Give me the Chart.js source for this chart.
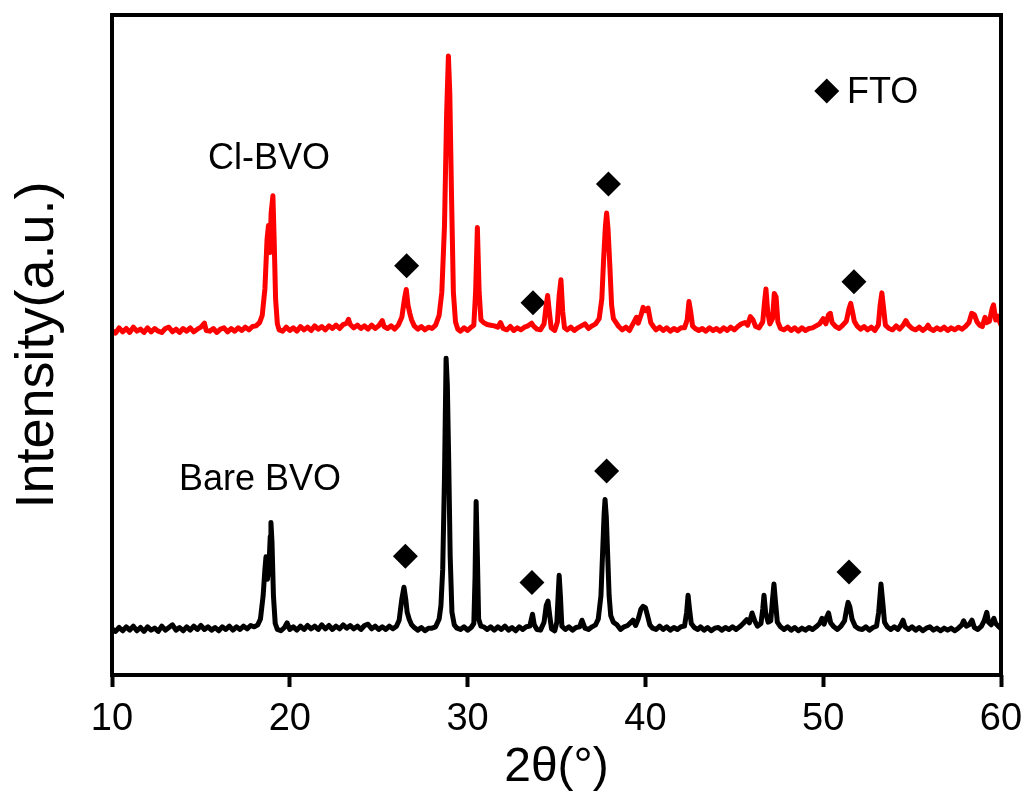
<!DOCTYPE html>
<html>
<head>
<meta charset="utf-8">
<script src="https://cdn.jsdelivr.net/npm/chart.js@4.4.0/dist/chart.umd.min.js"></script>
<style>
  html, body { margin: 0; padding: 0; background: #ffffff; }
  #wrap { width: 1028px; height: 796px; }
</style>
</head>
<body>
<div id="wrap"><canvas id="c" width="1028" height="796"></canvas></div>
<script>
// ---------- data (2θ in degrees, intensity in offset a.u.) ----------
const xTicks = [10, 20, 30, 40, 50, 60];

const clBVO = [
  [10.0,52.2],[10.2,51.8],[10.4,52.6],[10.6,52.0],[10.8,52.5],[11.0,51.9],[11.2,52.7],[11.4,52.1],[11.6,52.4],[11.8,51.9],
  [12.0,52.6],[12.2,52.0],[12.4,52.5],[12.6,52.1],[12.8,51.9],[13.0,52.5],[13.2,52.7],[13.4,52.0],[13.6,52.4],[13.8,51.9],
  [14.0,52.5],[14.2,52.1],[14.4,52.6],[14.6,52.0],[14.8,52.4],[15.0,52.7],[15.2,53.3],[15.3,52.2],[15.5,52.1],[15.7,52.5],
  [15.9,51.9],[16.1,52.4],[16.3,52.6],[16.5,52.0],[16.7,52.5],[16.9,52.1],[17.1,52.6],[17.3,52.2],[17.5,52.7],[17.7,52.3],
  [17.9,52.8],[18.1,52.9],[18.3,53.4],[18.45,54.5],[18.6,58.5],[18.72,66.0],[18.8,68.1],[18.88,64.0],[18.95,70.0],[19.05,72.6],
  [19.12,66.0],[19.2,57.0],[19.3,53.2],[19.4,52.3],[19.6,52.1],[19.8,52.7],[20.0,52.2],[20.2,52.6],[20.4,52.1],[20.6,52.8],
  [20.8,52.3],[21.0,52.7],[21.2,52.2],[21.4,52.9],[21.6,52.4],[21.8,52.8],[22.0,52.3],[22.2,52.9],[22.4,52.5],[22.6,53.0],
  [22.8,52.5],[23.0,53.1],[23.2,53.3],[23.3,53.9],[23.4,53.1],[23.6,52.6],[23.8,53.0],[24.0,52.5],[24.2,52.9],[24.4,52.4],
  [24.6,53.0],[24.8,52.5],[25.0,52.9],[25.2,53.7],[25.3,52.8],[25.5,52.5],[25.7,52.9],[25.9,52.4],[26.1,53.0],[26.3,54.2],
  [26.45,57.0],[26.55,58.4],[26.65,56.0],[26.75,54.8],[26.85,53.8],[27.0,52.9],[27.2,52.4],[27.4,52.8],[27.6,52.3],[27.8,52.7],
  [28.0,52.5],[28.2,53.0],[28.4,54.5],[28.55,58.0],[28.7,68.0],[28.82,85.0],[28.92,93.8],[29.0,88.0],[29.1,72.0],[29.2,58.0],
  [29.32,53.5],[29.45,52.4],[29.6,52.1],[29.8,52.6],[30.0,52.2],[30.2,52.7],[30.35,53.0],[30.45,58.0],[30.55,67.8],[30.65,58.0],
  [30.75,53.8],[30.9,53.4],[31.1,53.1],[31.3,53.0],[31.5,52.9],[31.7,52.7],[31.85,53.4],[32.0,52.5],[32.2,52.3],[32.4,52.8],
  [32.6,52.2],[32.8,52.6],[33.0,52.3],[33.2,52.7],[33.4,52.9],[33.6,53.3],[33.7,52.9],[33.9,52.4],[34.1,52.3],[34.3,53.2],
  [34.42,56.0],[34.5,57.5],[34.6,55.0],[34.7,52.6],[34.9,52.2],[35.05,53.5],[35.15,57.5],[35.25,59.9],[35.35,55.0],[35.45,52.6],
  [35.6,52.3],[35.8,52.7],[36.0,52.2],[36.2,52.6],[36.4,52.9],[36.6,53.2],[36.8,52.5],[37.0,52.9],[37.2,53.2],[37.4,54.0],
  [37.55,57.0],[37.65,63.0],[37.75,68.0],[37.82,70.0],[37.9,67.5],[38.0,62.0],[38.1,56.0],[38.2,54.0],[38.35,53.4],[38.5,52.8],
  [38.7,52.3],[38.9,52.7],[39.1,52.2],[39.3,53.2],[39.5,54.2],[39.6,53.3],[39.75,54.5],[39.87,55.7],[40.0,55.2],[40.15,55.6],
  [40.3,53.4],[40.45,52.8],[40.6,52.3],[40.8,52.7],[41.0,52.2],[41.2,52.6],[41.4,52.1],[41.6,52.5],[41.8,52.2],[42.0,52.6],
  [42.2,52.6],[42.35,53.8],[42.45,56.6],[42.55,55.0],[42.65,52.9],[42.8,52.5],[43.0,52.2],[43.2,52.5],[43.4,52.1],[43.6,52.6],
  [43.8,52.2],[44.0,52.5],[44.2,52.1],[44.4,52.6],[44.6,52.2],[44.8,52.7],[45.0,52.3],[45.2,52.8],[45.4,53.2],[45.6,53.4],
  [45.75,53.0],[45.9,54.3],[46.05,53.8],[46.2,52.8],[46.4,52.6],[46.6,53.5],[46.7,56.5],[46.78,58.5],[46.88,55.0],[47.0,53.2],
  [47.15,54.0],[47.25,57.8],[47.35,57.3],[47.45,53.5],[47.6,52.5],[47.8,52.3],[48.0,52.7],[48.2,52.2],[48.4,52.6],[48.6,52.1],
  [48.8,52.6],[49.0,52.2],[49.2,52.5],[49.4,52.6],[49.6,52.9],[49.8,53.2],[50.0,54.0],[50.15,53.2],[50.3,54.6],[50.4,54.8],
  [50.5,53.4],[50.7,52.8],[50.9,52.5],[51.1,53.0],[51.3,53.6],[51.45,55.5],[51.55,56.3],[51.65,55.0],[51.75,53.6],[51.9,52.9],
  [52.1,52.4],[52.3,52.8],[52.5,52.3],[52.7,52.7],[52.9,52.2],[53.1,53.0],[53.2,56.0],[53.3,57.9],[53.4,55.5],[53.5,53.0],
  [53.7,52.5],[53.9,52.3],[54.1,52.9],[54.3,52.4],[54.5,53.0],[54.65,53.7],[54.8,53.0],[55.0,52.5],[55.2,52.3],[55.4,52.7],
  [55.6,52.2],[55.8,52.6],[55.9,53.0],[56.0,52.5],[56.2,52.2],[56.4,52.6],[56.6,52.3],[56.8,52.7],[57.0,52.2],[57.2,52.6],
  [57.4,52.3],[57.6,52.7],[57.8,52.4],[58.0,52.8],[58.2,53.4],[58.35,54.8],[58.5,54.6],[58.65,53.5],[58.8,53.0],[58.95,52.8],
  [59.1,54.2],[59.2,53.4],[59.35,53.6],[59.5,55.5],[59.58,56.1],[59.7,53.8],[59.8,54.4],[60.0,53.0]
];

const bareBVO = [
  [10.0,7.0],[10.2,6.6],[10.4,7.2],[10.6,6.7],[10.8,7.3],[11.0,6.8],[11.2,7.4],[11.4,6.7],[11.6,7.2],[11.8,6.6],
  [12.0,7.3],[12.2,6.8],[12.4,7.1],[12.6,6.6],[12.8,7.4],[13.0,6.8],[13.2,7.2],[13.4,7.6],[13.6,6.8],[13.8,7.2],
  [14.0,6.7],[14.2,7.3],[14.4,6.8],[14.6,7.4],[14.8,6.9],[15.0,7.5],[15.2,6.9],[15.4,7.3],[15.6,6.8],[15.8,7.2],
  [16.0,6.7],[16.2,7.3],[16.4,6.9],[16.6,7.4],[16.8,6.8],[17.0,7.3],[17.2,6.9],[17.4,7.4],[17.6,7.0],[17.8,7.5],
  [18.0,7.3],[18.2,7.6],[18.35,8.5],[18.5,12.0],[18.6,16.0],[18.66,17.9],[18.74,14.5],[18.82,16.0],[18.9,21.0],[18.94,23.1],
  [19.0,20.0],[19.08,12.0],[19.18,7.8],[19.3,6.9],[19.5,6.7],[19.7,7.2],[19.85,7.9],[20.0,6.9],[20.2,7.3],[20.4,6.8],
  [20.6,7.4],[20.8,6.9],[21.0,7.5],[21.2,7.0],[21.4,7.4],[21.6,6.9],[21.8,7.6],[22.0,7.0],[22.2,7.5],[22.4,6.9],
  [22.6,7.4],[22.8,7.0],[23.0,7.6],[23.2,7.1],[23.4,7.5],[23.6,7.0],[23.8,7.4],[24.0,6.9],[24.2,7.5],[24.4,7.7],
  [24.6,7.0],[24.8,7.4],[25.0,6.9],[25.2,7.3],[25.4,6.9],[25.6,7.4],[25.8,7.0],[26.0,7.4],[26.15,8.3],[26.3,11.5],
  [26.42,13.3],[26.52,11.5],[26.6,9.5],[26.72,8.4],[26.85,7.6],[27.0,7.2],[27.2,6.8],[27.4,7.2],[27.6,6.7],[27.8,7.1],
  [28.0,7.1],[28.2,7.3],[28.4,8.5],[28.5,10.5],[28.6,16.0],[28.7,30.0],[28.79,48.0],[28.86,44.0],[28.94,32.0],[29.02,18.0],
  [29.12,9.5],[29.25,7.6],[29.4,7.1],[29.6,6.9],[29.8,7.3],[30.0,6.8],[30.2,7.2],[30.35,7.8],[30.42,15.0],[30.48,26.3],
  [30.55,18.0],[30.62,8.5],[30.75,7.4],[30.9,7.3],[31.1,6.9],[31.3,7.3],[31.5,6.8],[31.7,7.3],[31.9,6.9],[32.1,7.4],
  [32.3,6.8],[32.5,7.2],[32.7,6.7],[32.9,7.3],[33.1,6.9],[33.3,7.3],[33.5,7.4],[33.65,9.2],[33.75,7.6],[33.9,6.9],
  [34.1,6.8],[34.3,8.0],[34.42,10.5],[34.52,11.2],[34.62,9.0],[34.72,7.0],[34.9,6.7],[35.02,8.0],[35.1,12.5],[35.15,15.1],
  [35.22,12.0],[35.3,7.4],[35.5,6.9],[35.7,7.3],[35.9,6.8],[36.1,7.2],[36.3,7.3],[36.43,8.3],[36.6,7.1],[36.8,6.9],
  [37.0,7.3],[37.2,7.6],[37.35,8.5],[37.5,12.0],[37.6,19.0],[37.68,24.5],[37.73,26.6],[37.8,24.0],[37.88,18.0],[37.96,12.0],
  [38.05,9.0],[38.2,8.0],[38.4,7.6],[38.6,6.9],[38.8,7.3],[39.0,7.5],[39.2,8.0],[39.3,8.3],[39.45,7.5],[39.6,8.5],
  [39.75,10.0],[39.87,10.4],[40.0,10.2],[40.12,9.0],[40.25,7.6],[40.4,7.1],[40.6,6.9],[40.8,7.4],[41.0,6.9],[41.2,7.3],
  [41.4,6.8],[41.6,7.2],[41.8,6.9],[42.0,7.3],[42.2,7.4],[42.32,9.5],[42.4,12.1],[42.48,10.0],[42.58,7.8],[42.75,7.2],
  [42.95,6.9],[43.1,7.3],[43.3,6.8],[43.5,7.2],[43.7,6.7],[43.9,7.1],[44.1,7.2],[44.3,6.8],[44.5,7.2],[44.7,6.9],
  [44.9,7.3],[45.1,6.9],[45.3,7.3],[45.5,7.8],[45.7,8.4],[45.85,7.9],[46.0,9.4],[46.15,8.2],[46.3,7.4],[46.5,7.8],
  [46.6,10.0],[46.67,12.1],[46.76,9.5],[46.9,8.0],[47.05,8.2],[47.15,11.5],[47.23,13.8],[47.32,11.0],[47.42,8.0],[47.6,7.3],
  [47.8,6.9],[48.0,7.3],[48.2,6.8],[48.4,7.2],[48.6,6.7],[48.8,7.1],[49.0,6.8],[49.2,7.2],[49.4,6.9],[49.6,7.3],
  [49.8,7.8],[49.93,8.6],[50.05,7.7],[50.2,8.8],[50.3,9.4],[50.42,7.9],[50.6,7.3],[50.8,6.9],[51.0,7.4],[51.2,8.2],
  [51.32,10.0],[51.4,11.0],[51.5,10.3],[51.62,8.5],[51.8,7.4],[52.0,7.0],[52.2,6.9],[52.4,7.3],[52.6,6.8],[52.8,7.2],
  [53.0,7.4],[53.12,9.5],[53.25,13.8],[53.35,11.0],[53.45,8.0],[53.6,7.3],[53.8,6.9],[54.0,7.3],[54.2,6.9],[54.35,7.5],
  [54.49,8.3],[54.6,7.3],[54.8,6.9],[55.0,7.3],[55.2,6.8],[55.4,7.2],[55.6,6.7],[55.8,7.1],[56.0,7.3],[56.2,6.8],
  [56.4,7.1],[56.6,6.7],[56.8,7.1],[57.0,6.8],[57.2,7.1],[57.4,6.7],[57.6,7.1],[57.8,7.6],[57.9,8.2],[58.05,7.4],
  [58.2,7.6],[58.37,8.3],[58.5,7.2],[58.7,6.9],[58.9,7.4],[59.05,8.2],[59.2,9.5],[59.3,8.0],[59.45,7.6],[59.6,8.6],
  [59.7,7.8],[59.85,7.4],[60.0,7.0]
];

// FTO reflection markers (diamonds)
const ftoMarksCl   = [[26.57,62.0],[33.68,56.4],[37.92,74.4],[51.73,59.6]];
const ftoMarksBare = [[26.50,18.0],[33.62,14.0],[37.82,30.9],[51.45,15.6]];
const ftoLegendMark = [[50.2,88.5]];

// Text annotations (data coordinates, left/baseline)
const textLabels = [
  { text: 'Cl-BVO',   x: 15.4,  y: 76.7 },
  { text: 'Bare BVO', x: 13.77, y: 28.1 },
  { text: 'FTO',      x: 51.34, y: 86.7 }
];

// ---------- chart ----------
const FONT = "'Liberation Sans', Arial, sans-serif";
const toXY = arr => arr.map(p => ({ x: p[0], y: p[1] }));

const framePlugin = {
  id: 'frameAndText',
  afterDatasetsDraw(chart) {
    const { ctx, scales } = chart;
    ctx.save();
    ctx.fillStyle = '#000';
    ctx.font = '36px ' + FONT;
    ctx.textBaseline = 'alphabetic';
    ctx.textAlign = 'left';
    textLabels.forEach(t => {
      ctx.fillText(t.text, scales.x.getPixelForValue(t.x), scales.y.getPixelForValue(t.y));
    });
    ctx.restore();
  },
  afterDraw(chart) {
    const { ctx, chartArea: a } = chart;
    ctx.save();
    ctx.strokeStyle = '#000';
    ctx.lineWidth = 4;
    ctx.lineJoin = 'miter';
    ctx.strokeRect(a.left, a.top, a.right - a.left, a.bottom - a.top);
    ctx.restore();
  }
};

const markerDs = (arr) => ({
  type: 'scatter',
  data: toXY(arr),
  showLine: false,
  pointStyle: 'rectRot',
  pointRadius: 12.5,
  pointHoverRadius: 12.5,
  backgroundColor: '#000',
  borderColor: '#000',
  borderWidth: 0
});

new Chart(document.getElementById('c'), {
  type: 'line',
  data: {
    datasets: [
      { data: toXY(clBVO), borderColor: '#ff0000', borderWidth: 5, pointRadius: 0, tension: 0,
        borderJoinStyle: 'round', borderCapStyle: 'round', fill: false },
      { data: toXY(bareBVO), borderColor: '#000000', borderWidth: 5, pointRadius: 0, tension: 0,
        borderJoinStyle: 'round', borderCapStyle: 'round', fill: false },
      markerDs(ftoMarksCl),
      markerDs(ftoMarksBare),
      markerDs(ftoLegendMark)
    ]
  },
  options: {
    responsive: false,
    animation: false,
    events: [],
    layout: { padding: { top: 15, right: 27, left: 0, bottom: 0 } },
    plugins: { legend: { display: false }, tooltip: { enabled: false } },
    scales: {
      x: {
        type: 'linear',
        min: 10, max: 60,
        afterBuildTicks: s => { s.ticks = xTicks.map(v => ({ value: v })); },
        afterFit: s => { s.height = 121; s.paddingLeft = 0; s.paddingRight = 0; },
        border: { display: false },
        grid: { display: true, drawOnChartArea: false, drawTicks: true, tickLength: 12, tickWidth: 4, tickColor: '#000', color: '#000' },
        ticks: { color: '#000', font: { family: FONT, size: 38 }, padding: 10, maxRotation: 0 },
        title: { display: true, text: '2θ(°)', color: '#000', font: { family: FONT, size: 48, lineHeight: 1 }, padding: { top: 0, bottom: 4 } }
      },
      y: {
        type: 'linear',
        min: 0, max: 100,
        afterFit: s => { s.width = 112; s.paddingTop = 0; s.paddingBottom = 0; },
        border: { display: false },
        grid: { display: false },
        ticks: { display: false },
        title: { display: true, text: 'Intensity(a.u.)', color: '#000', font: { family: FONT, size: 54, lineHeight: 1 }, padding: { top: 11, bottom: 0 } }
      }
    }
  },
  plugins: [framePlugin]
});
</script>
</body>
</html>
